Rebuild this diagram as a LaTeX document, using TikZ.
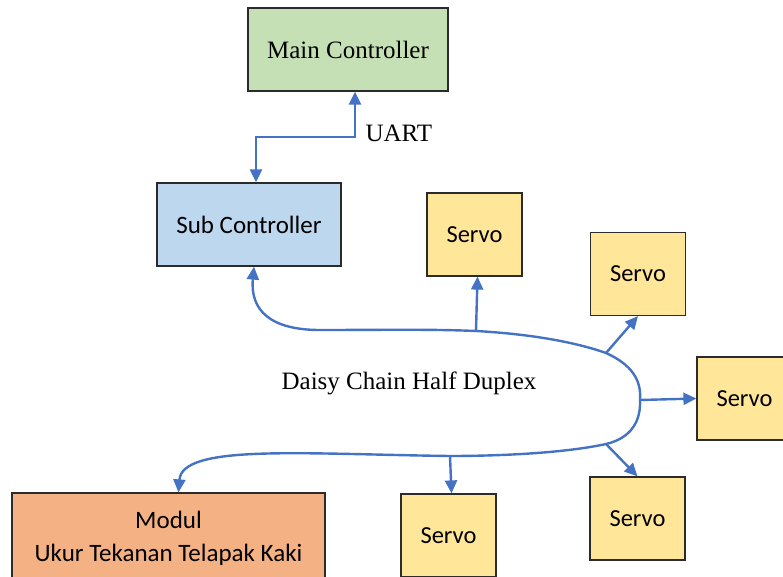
\documentclass[tikz,border=0pt]{standalone}
\usepackage{fontspec}
\setmainfont{Liberation Serif}
\newfontfamily\calib{Carlito}
\usetikzlibrary{arrows.meta,calc}
\definecolor{link}{HTML}{4472C4}
\definecolor{greenfill}{HTML}{C5E0B4}
\definecolor{bluefill}{HTML}{BDD7EE}
\definecolor{servofill}{HTML}{FFE699}
\definecolor{modfill}{HTML}{F4B183}
\definecolor{edge}{HTML}{2B2B2B}
\tikzset{
  blk/.style={draw=edge, line width=1.2pt, inner sep=0pt, align=center},
  servobox/.style={blk, fill=servofill, minimum width=95pt, minimum height=83pt,
    font=\calib\fontsize{24.5}{28}\selectfont},
  wire/.style={draw=link, line width=2.4pt},
  tip/.style={-{Triangle[length=13pt,width=12pt]}},
  dtip/.style={{Triangle[length=13pt,width=12pt]}-{Triangle[length=13pt,width=12pt]}},
}
\begin{document}
\begin{tikzpicture}[x=1pt,y=-1pt]
\useasboundingbox (0,0) rectangle (783,577);
\clip (0,0) rectangle (783,577);

% controllers
\node[blk, fill=greenfill, minimum width=200pt, minimum height=83pt,
  font=\fontsize{25}{28}\selectfont] (main) at (348,49.5) {Main Controller};
\node[blk, fill=bluefill, minimum width=184pt, minimum height=83pt,
  font=\calib\fontsize{25}{28}\selectfont] (sub) at (249,224.5) {Sub Controller};

% servos
\node[servobox] (s1) at (474.5,234.5) {Servo};
\node[servobox] (s2) at (638,274) {Servo};
\node[servobox] (s3) at (744.5,398.5) {Servo};
\node[servobox] (s4) at (637.5,518.5) {Servo};
\node[servobox] (s5) at (448.5,535.5) {Servo};

% foot pressure module
\node[blk, fill=modfill, minimum width=313pt, minimum height=91pt,
  font=\calib\fontsize{25}{33}\selectfont] (mod) at (168.5,538.5)
  {Modul\\Ukur Tekanan Telapak Kaki};

% UART link
\coordinate (mu) at ($(main.south)+(7,0)$);
\coordinate (su) at ($(sub.north)+(7,0)$);
\draw[wire, dtip] (mu) -- (mu |- 0,137) -| (su);
\node[font=\fontsize{25}{28}\selectfont, anchor=west] (uart) at (362,133) {UART};

% daisy chain bus
\coordinate (sb) at ($(sub.south)+(5,0)$);
\coordinate (mb) at ($(mod.north)+(10,0)$);
\coordinate (b1) at (476,331);
\coordinate (b2) at (606,353);
\coordinate (b3) at (640,400);
\coordinate (b4) at (606,444);
\coordinate (b5) at (450,456);
\draw[wire, dtip] (sb) .. controls (250,310) and (270,330) .. (320,330)
  .. controls (380,330) and (430,329) .. (b1)
  .. controls (530,334) and (575,342) .. (b2)
  .. controls (637,367) and (641,385) .. (b3)
  .. controls (641,420) and (632,438) .. (b4)
  .. controls (560,454) and (490,456) .. (b5)
  .. controls (300,454) and (182,444) .. (mb);
\node[font=\fontsize{25}{28}\selectfont] (dc) at (409,383) {Daisy Chain Half Duplex};

% branches to servos
\draw[wire, tip] (b1) -- ($(s1.south)+(3,0)$);
\draw[wire, tip] (b2) -- (s2.south);
\draw[wire, tip] (b3) -- (s3.west);
\draw[wire, tip] (b4) -- (s4.north);
\draw[wire, tip] (b5) -- ($(s5.north)+(3,0)$);
\end{tikzpicture}
\end{document}
